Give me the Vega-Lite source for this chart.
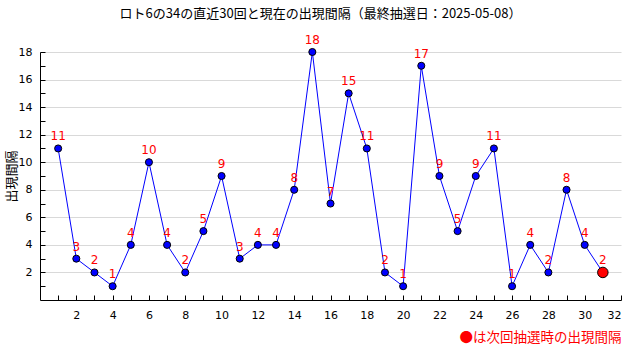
{
  "$schema": "https://vega.github.io/schema/vega-lite/v6.json",
  "width": 581,
  "height": 248,
  "autosize": {"type": "none"},
  "padding": {"left": 40, "top": 52, "right": 19, "bottom": 60},
  "background": "white",
  "title": {
    "text": "ロト6の34の直近30回と現在の出現間隔（最終抽選日：2025-05-08）",
    "font": "Noto Sans CJK JP",
    "fontSize": 13,
    "fontWeight": "normal",
    "color": "#000000",
    "anchor": "middle",
    "dx": -10,
    "offset": 13
  },
  "config": {
    "view": {"stroke": null},
    "axis": {"labelFont": "DejaVu Sans", "labelFontSize": 11, "labelColor": "#000"}
  },
  "data": {
    "values": [
      {"n": 1, "v": 11, "k": "past"},
      {"n": 2, "v": 3, "k": "past"},
      {"n": 3, "v": 2, "k": "past"},
      {"n": 4, "v": 1, "k": "past"},
      {"n": 5, "v": 4, "k": "past"},
      {"n": 6, "v": 10, "k": "past"},
      {"n": 7, "v": 4, "k": "past"},
      {"n": 8, "v": 2, "k": "past"},
      {"n": 9, "v": 5, "k": "past"},
      {"n": 10, "v": 9, "k": "past"},
      {"n": 11, "v": 3, "k": "past"},
      {"n": 12, "v": 4, "k": "past"},
      {"n": 13, "v": 4, "k": "past"},
      {"n": 14, "v": 8, "k": "past"},
      {"n": 15, "v": 18, "k": "past"},
      {"n": 16, "v": 7, "k": "past"},
      {"n": 17, "v": 15, "k": "past"},
      {"n": 18, "v": 11, "k": "past"},
      {"n": 19, "v": 2, "k": "past"},
      {"n": 20, "v": 1, "k": "past"},
      {"n": 21, "v": 17, "k": "past"},
      {"n": 22, "v": 9, "k": "past"},
      {"n": 23, "v": 5, "k": "past"},
      {"n": 24, "v": 9, "k": "past"},
      {"n": 25, "v": 11, "k": "past"},
      {"n": 26, "v": 1, "k": "past"},
      {"n": 27, "v": 4, "k": "past"},
      {"n": 28, "v": 2, "k": "past"},
      {"n": 29, "v": 8, "k": "past"},
      {"n": 30, "v": 4, "k": "past"},
      {"n": 31, "v": 2, "k": "now"}
    ]
  },
  "encoding": {
    "x": {
      "field": "n",
      "type": "quantitative",
      "scale": {"domain": [0, 32], "nice": false, "zero": false},
      "axis": {
        "title": "●は次回抽選時の出現間隔",
        "titleFont": "Noto Sans CJK JP",
        "titleFontSize": 13.5,
        "titleFontWeight": "normal",
        "titleColor": "#ff0000",
        "titleAnchor": "end",
        "titlePadding": 10,
        "values": [1,2,3,4,5,6,7,8,9,10,11,12,13,14,15,16,17,18,19,20,21,22,23,24,25,26,27,28,29,30,31,32],
        "labelExpr": "datum.value % 2 === 0 ? datum.label : ''",
        "grid": false,
        "tickSize": -5,
        "tickColor": "#000",
        "domainColor": "#000",
        "labelPadding": 14
      }
    },
    "y": {
      "field": "v",
      "type": "quantitative",
      "scale": {"domain": [0, 18], "nice": false},
      "axis": {
        "title": "出現間隔",
        "titleFont": "Noto Sans CJK JP",
        "titleFontSize": 13,
        "titleFontWeight": "normal",
        "titleColor": "#000",
        "titlePadding": 0,
        "values": [1,2,3,4,5,6,7,8,9,10,11,12,13,14,15,16,17,18],
        "labelExpr": "datum.value % 2 === 0 ? datum.label : ''",
        "grid": true,
        "gridColor": "#d9d9d9",
        "gridOpacity": {"condition": {"test": "datum.value % 2 === 1", "value": 0}, "value": 1},
        "tickSize": -5,
        "tickColor": "#000",
        "domainColor": "#000",
        "labelPadding": 13
      }
    }
  },
  "layer": [
    {
      "mark": {"type": "line", "color": "#0000ff", "strokeWidth": 1},
      "encoding": {}
    },
    {
      "mark": {"type": "point", "filled": true, "stroke": "#000", "strokeWidth": 1, "opacity": 1},
      "encoding": {
        "fill": {
          "field": "k",
          "type": "nominal",
          "scale": {"domain": ["past", "now"], "range": ["#0000ff", "#ff0000"]},
          "legend": null
        },
        "size": {
          "field": "k",
          "type": "nominal",
          "scale": {"domain": ["past", "now"], "range": [50, 110]},
          "legend": null
        }
      }
    },
    {
      "mark": {"type": "text", "color": "#ff0000", "dy": -12, "font": "DejaVu Sans", "fontSize": 12},
      "encoding": {"text": {"field": "v", "type": "quantitative"}}
    }
  ]
}
